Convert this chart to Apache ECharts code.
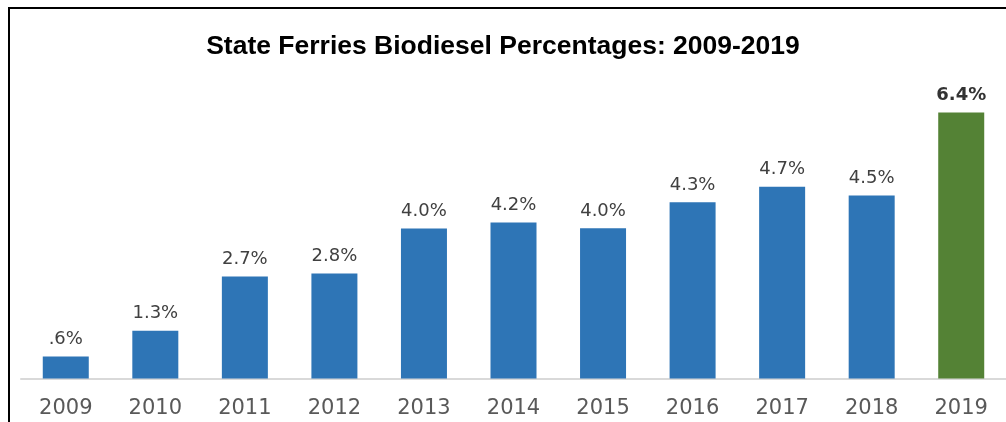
<!DOCTYPE html>
<html>
<head>
<meta charset="utf-8">
<script src="https://cdn.jsdelivr.net/npm/echarts@6/dist/echarts.min.js"></script>
<style>
html,body{margin:0;padding:0;background:#fff;}
#chart{width:1006px;height:422px;}
</style>
</head>
<body>
<div id="chart"></div>
<script>
var categories = ['2009','2010','2011','2012','2013','2014','2015','2016','2017','2018','2019'];
// bar heights (percent)
var values = [0.59, 1.28, 2.73, 2.81, 4.01, 4.17, 4.02, 4.71, 5.13, 4.89, 7.11];
// label text as printed on the chart
var labels = ['.6%','1.3%','2.7%','2.8%','4.0%','4.2%','4.0%','4.3%','4.7%','4.5%','6.4%'];
var titleText = 'State Ferries Biodiesel Percentages: 2009-2019';

var chart = echarts.init(document.getElementById('chart'));
var data = values.map(function(v, i){
  var last = i === values.length - 1;
  return {
    value: v,
    itemStyle: { color: last ? '#548235' : '#2E75B6' },
    label: { formatter: labels[i], fontWeight: last ? 'bold' : 'normal', color: last ? '#333333' : '#404040' }
  };
});
chart.setOption({
  animation: false,
  title: {
    text: titleText,
    left: 'center',
    top: 28,
    textStyle: { fontFamily: 'Liberation Sans', fontWeight: 'bold', fontSize: 26.5, color: '#000' }
  },
  grid: { left: 21, right: -4, top: 79.3, bottom: 43.5, containLabel: false },
  xAxis: {
    type: 'category',
    data: categories,
    axisLine: { lineStyle: { color: '#d9d9d9', width: 2 } },
    axisTick: { show: false },
    axisLabel: { fontFamily: 'DejaVu Sans', fontSize: 21, color: '#595959', margin: 20 }
  },
  yAxis: {
    type: 'value', min: 0, max: 8,
    show: false,
    splitLine: { show: false }
  },
  graphic: [{
    type: 'polyline',
    shape: { points: [[9, 422], [9, 8], [1006, 8]] },
    style: { stroke: '#000', lineWidth: 2, fill: null }
  }],
  series: [{
    type: 'bar',
    data: data,
    barWidth: 46,
    label: {
      show: true, position: 'top', distance: 8,
      fontFamily: 'DejaVu Sans', fontSize: 18
    }
  }]
});
</script>
</body>
</html>
